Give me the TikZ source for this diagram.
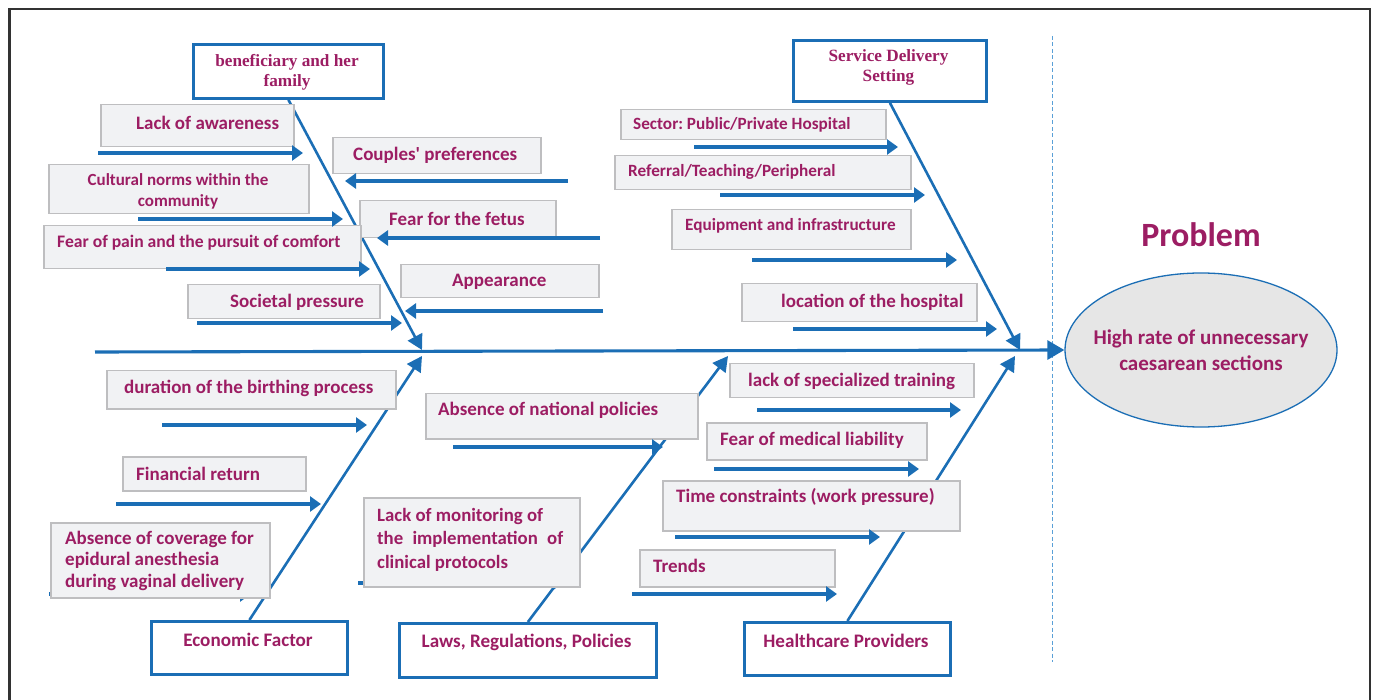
\documentclass[tikz,border=0pt]{standalone}
\usepackage{fontspec}
\setmainfont{Carlito}
\newfontfamily\serifb{Liberation Serif}
\usetikzlibrary{arrows.meta,shapes.geometric}
\frenchspacing
\definecolor{bluec}{RGB}{27,110,181}
\definecolor{txtc}{RGB}{156,29,99}
\definecolor{boxgray}{RGB}{190,190,192}
\definecolor{boxfill}{RGB}{241,242,244}
\definecolor{ellfill}{RGB}{230,230,230}
\definecolor{dashc}{RGB}{90,160,215}
\definecolor{framec}{RGB}{50,50,50}
\tikzset{
  causebox/.style={draw=boxgray, fill=boxfill, line width=1.5pt, inner sep=0pt, anchor=north west},
  causetxt/.style={text=txtc, inner sep=0pt, anchor=west, font=\frenchspacing\fontsize{19}{21}\selectfont\bfseries},
  smalltxt/.style={causetxt, font=\frenchspacing\fontsize{17.2}{21}\selectfont\bfseries},
  catbox/.style={draw=bluec, fill=white, line width=2.8pt, inner sep=0pt, anchor=north west},
  cattxt/.style={text=txtc, inner sep=0pt, font=\fontsize{19.1}{21}\selectfont\bfseries},
  serifcat/.style={text=txtc, inner sep=0pt, align=center, font=\serifb\fontsize{17.2}{20}\selectfont\bfseries},
  causearrow/.style={draw=bluec, line width=3.1pt, -{Triangle[length=11pt,width=15pt]}},
  bone/.style={draw=bluec, line width=2.6pt, -{Triangle[length=15pt,width=16pt]}},
}
\begin{document}
\begin{tikzpicture}[x=1pt,y=-1pt]
\useasboundingbox (0,0) rectangle (1376,700);
% frame
\draw[framec, line width=2.8pt] (9.5,702) -- (9.5,9) -- (1370,9) -- (1370,702);
% dashed separator
\draw[dashc, line width=1.3pt, dash pattern=on 4pt off 2.5pt] (1052.5,36) -- (1052.5,662);

% problem
\node[text=txtc, inner sep=0pt, font=\fontsize{34}{38}\selectfont\bfseries] (ptitle) at (1201,235) {Problem};
\node[ellipse, draw=bluec, line width=1.3pt, fill=ellfill, minimum width=272, minimum height=154, inner sep=0pt] (prob) at (1201,350) {};
\node[text=txtc, inner sep=0pt, align=center, font=\fontsize{21}{26}\selectfont\bfseries] (probT) at (1201,350) {High rate of unnecessary\\caesarean sections};

% category boxes
\node[catbox, minimum width=190, minimum height=54] (benef) at (192,43) {};
\node[serifcat] (benefT) at (287,72) {beneficiary and her\\family};
\node[catbox, minimum width=193, minimum height=61] (serv) at (792,39) {};
\node[serifcat] (servT) at (888.5,67) {Service Delivery\\Setting};
\node[catbox, minimum width=196, minimum height=53] (econ) at (150,620) {};
\node[cattxt] (econT) at (248,640) {Economic Factor};
\node[catbox, minimum width=257, minimum height=54] (laws) at (398,622) {};
\node[cattxt] (lawsT) at (526.5,642) {Laws, Regulations, Policies};
\node[catbox, minimum width=206, minimum height=53] (hcp) at (743,621) {};
\node[cattxt] (hcpT) at (846,641) {Healthcare Providers};

% spine and bones
\coordinate (spineS) at (95,352);
\coordinate (j1) at (422,350);
\coordinate (j2) at (1020,350);
\coordinate (j3) at (422,356);
\coordinate (j4) at (728,356);
\coordinate (j5) at (1015,356);
\draw[draw=bluec, line width=3.1pt, -{Triangle[length=17pt,width=19pt]}] (spineS) -- (prob.west);
\draw[bone] (benef.south) -- (j1);
\draw[bone] (serv.south) -- (j2);
\draw[bone] (econ.north) -- (j3);
\draw[bone] (laws.north) -- (j4);
\draw[bone] (hcp.north) -- (j5);

% hidden arrows (beneath boxes)
\coordinate (h1s) at (49,594); \coordinate (h1e) at (251,594);
\coordinate (h2s) at (358,583); \coordinate (h2e) at (563,583);
\draw[causearrow] (h1s) -- (h1e);
\draw[causearrow] (h2s) -- (h2e);

% ---------- top-left causes
\node[causebox, minimum width=193, minimum height=42] (b1) at (100,104) {};
\node[causetxt] (t1) at (136,123) {Lack of awareness};
\node[causebox, minimum width=208, minimum height=36] (b2) at (332,137) {};
\node[causetxt] (t2) at (353,155) {Couples\textquotesingle{} preferences};
\node[causebox, minimum width=260, minimum height=49] (b3) at (48,164) {};
\begin{scope}
\clip (48,164) rectangle (308,213.5);
\node[causetxt, anchor=center, align=center, font=\fontsize{17}{21}\selectfont\bfseries] (t3) at (178,191.5) {Cultural norms within the\\community};
\end{scope}
\node[causebox, minimum width=196, minimum height=37] (b4) at (359,200) {};
\node[causetxt] (t4) at (389,219) {Fear for the fetus};
\node[causebox, minimum width=317, minimum height=43] (b5) at (43,225) {};
\node[causetxt, font=\fontsize{17.6}{21}\selectfont\bfseries] (t5) at (57,243) {Fear of pain and the pursuit of comfort};
\node[causebox, minimum width=198, minimum height=33] (b6) at (400,264) {};
\node[causetxt] (t6) at (452,282) {Appearance};
\node[causebox, minimum width=192, minimum height=34] (b7) at (187,284) {};
\node[causetxt] (t7) at (230,302) {Societal pressure};

\coordinate (a1s) at (98,153);  \coordinate (a1e) at (303,153);
\coordinate (a2s) at (568,181); \coordinate (a2e) at (345,181);
\coordinate (a3s) at (138,219); \coordinate (a3e) at (343,219);
\coordinate (a4s) at (600,238); \coordinate (a4e) at (377,238);
\coordinate (a5s) at (166,269); \coordinate (a5e) at (370,269);
\coordinate (a6s) at (603,311); \coordinate (a6e) at (405,311);
\coordinate (a7s) at (197,323); \coordinate (a7e) at (402,323);
\foreach \i in {1,...,7} { \draw[causearrow] (a\i s) -- (a\i e); }

% ---------- top-right causes
\node[causebox, minimum width=265, minimum height=30] (d1) at (620,109) {};
\node[smalltxt] (u1) at (633,125) {Sector: Public/Private Hospital};
\node[causebox, minimum width=296, minimum height=34] (d2) at (614,155) {};
\node[smalltxt] (u2) at (628,172) {Referral/Teaching/Peripheral};
\node[causebox, minimum width=239, minimum height=40] (d3) at (671,209) {};
\node[smalltxt] (u3) at (685,226) {Equipment and infrastructure};
\node[causebox, minimum width=235, minimum height=38] (d4) at (741,283) {};
\node[causetxt] (u4) at (781,302) {location of the hospital};

\coordinate (r1s) at (694,147); \coordinate (r1e) at (898,147);
\coordinate (r2s) at (720,195); \coordinate (r2e) at (925,195);
\coordinate (r3s) at (752,260); \coordinate (r3e) at (957,260);
\coordinate (r4s) at (793,329); \coordinate (r4e) at (997,329);
\foreach \i in {1,...,4} { \draw[causearrow] (r\i s) -- (r\i e); }

% ---------- bottom-left causes (economic)
\node[causebox, minimum width=289, minimum height=38] (e1) at (106,370) {};
\node[causetxt] (v1) at (124,388) {duration of the birthing process};
\node[causebox, minimum width=183, minimum height=34] (e2) at (122,456) {};
\node[causetxt] (v2) at (136,474) {Financial return};
\node[causebox, minimum width=219, minimum height=75] (e3) at (50,522) {};
\node[causetxt, align=left, font=\fontsize{19}{21.5}\selectfont\bfseries] (v3) at (65,560.5) {Absence of coverage for\\epidural anesthesia\\during vaginal delivery};

\coordinate (l1s) at (162,425); \coordinate (l1e) at (367,425);
\coordinate (l2s) at (116,504); \coordinate (l2e) at (321,504);
\foreach \i in {1,2} { \draw[causearrow] (l\i s) -- (l\i e); }

% ---------- bottom-middle causes (laws)
\node[causebox, minimum width=272, minimum height=45] (f1) at (425,393) {};
\node[causetxt] (w1) at (438,410) {Absence of national policies};
\node[causebox, minimum width=216, minimum height=89] (f2) at (363,497) {};
\node[causetxt, align=left, font=\fontsize{18.8}{23.5}\selectfont\bfseries] (w2) at (377,539.5) {Lack of monitoring of\\\makebox[186pt][s]{the implementation of}\\clinical protocols};

\coordinate (m1s) at (453,447); \coordinate (m1e) at (663,447);
\draw[causearrow] (m1s) -- (m1e);

% ---------- bottom-right causes (healthcare)
\node[causebox, minimum width=244, minimum height=34] (g1) at (729,363) {};
\node[causetxt] (x1) at (748,381) {lack of specialized training};
\node[causebox, minimum width=220, minimum height=37] (g2) at (706,422) {};
\node[causetxt] (x2) at (720,440) {Fear of medical liability};
\node[causebox, minimum width=297, minimum height=50] (g3) at (662,480) {};
\node[causetxt] (x3) at (676,497) {Time constraints (work pressure)};
\node[causebox, minimum width=195, minimum height=37] (g4) at (639,549) {};
\node[causetxt] (x4) at (653,566) {Trends};

\coordinate (k1s) at (757,410); \coordinate (k1e) at (961,410);
\coordinate (k2s) at (714,469); \coordinate (k2e) at (919,469);
\coordinate (k3s) at (675,537); \coordinate (k3e) at (880,537);
\coordinate (k4s) at (632,594); \coordinate (k4e) at (837,594);
\foreach \i in {1,...,4} { \draw[causearrow] (k\i s) -- (k\i e); }
\end{tikzpicture}
\end{document}
